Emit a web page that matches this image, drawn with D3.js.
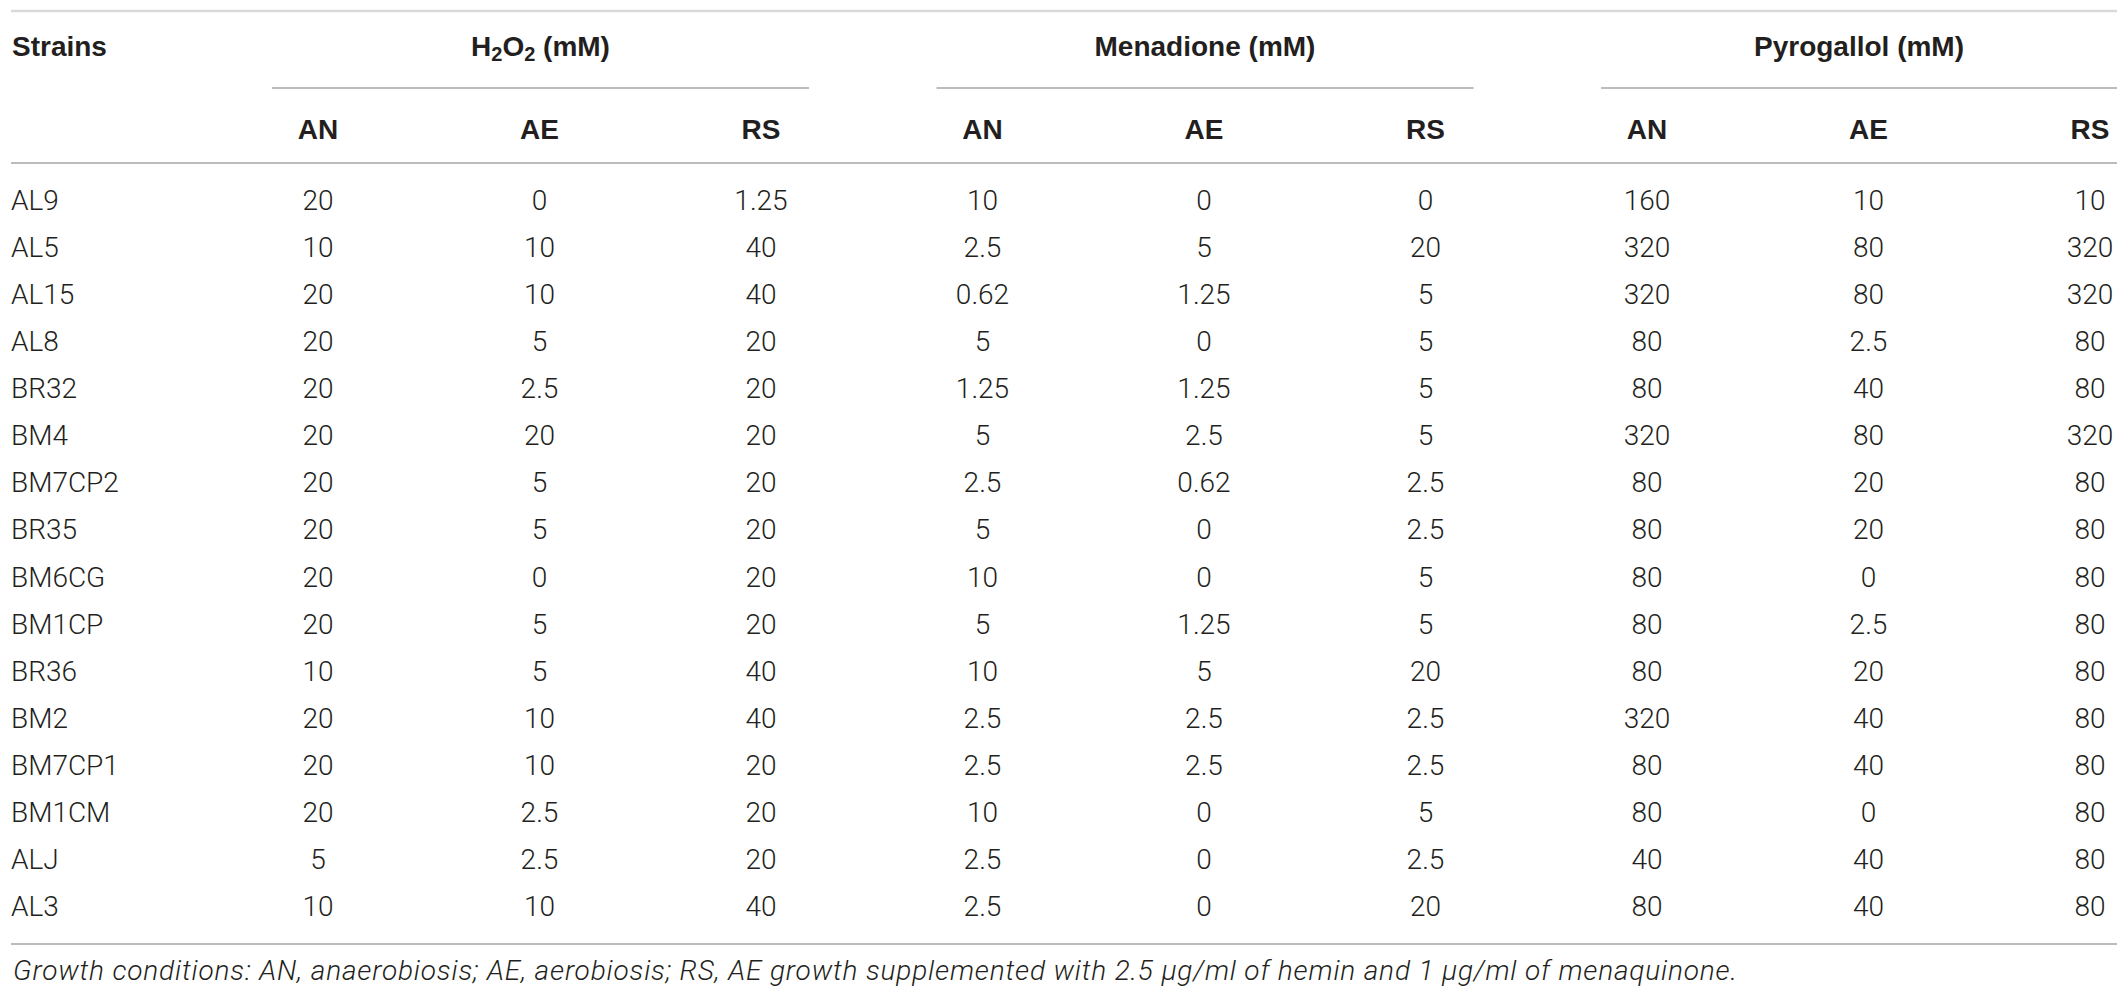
<!DOCTYPE html>
<html><head><meta charset="utf-8">
<script src="https://cdn.jsdelivr.net/npm/d3@7"></script>
<style>
html,body{margin:0;padding:0;background:#fff;}
svg{display:block;}
</style></head>
<body>
<svg id="chart" width="2128" height="1000"></svg>
<script>
// ---- data ----
const strains = ["AL9","AL5","AL15","AL8","BR32","BM4","BM7CP2","BR35","BM6CG","BM1CP","BR36","BM2","BM7CP1","BM1CM","ALJ","AL3"];
const groups = ["H2O2","Menadione","Pyrogallol"];
const conditions = ["AN","AE","RS"];
const h2o2AN = ["20","10","20","20","20","20","20","20","20","20","10","20","20","20","5","10"];
const h2o2AE = ["0","10","10","5","2.5","20","5","5","0","5","5","10","10","2.5","2.5","10"];
const h2o2RS = ["1.25","40","40","20","20","20","20","20","20","20","40","40","20","20","20","40"];
const menAN = ["10","2.5","0.62","5","1.25","5","2.5","5","10","5","10","2.5","2.5","10","2.5","2.5"];
const menAE = ["0","5","1.25","0","1.25","2.5","0.62","0","0","1.25","5","2.5","2.5","0","0","0"];
const menRS = ["0","20","5","5","5","5","2.5","2.5","5","5","20","2.5","2.5","5","2.5","20"];
const pyrAN = ["160","320","320","80","80","320","80","80","80","80","80","320","80","80","40","80"];
const pyrAE = ["10","80","80","2.5","40","80","20","20","0","2.5","20","40","40","0","40","40"];
const pyrRS = ["10","320","320","80","80","320","80","80","80","80","80","80","80","80","80","80"];
const footnote = "Growth conditions: AN, anaerobiosis; AE, aerobiosis; RS, AE growth supplemented with 2.5 \u03bcg/ml of hemin and 1 \u03bcg/ml of menaquinone.";

const columns = [
  {group:"H2O2", cond:"AN", vals:h2o2AN},{group:"H2O2", cond:"AE", vals:h2o2AE},{group:"H2O2", cond:"RS", vals:h2o2RS},
  {group:"Menadione", cond:"AN", vals:menAN},{group:"Menadione", cond:"AE", vals:menAE},{group:"Menadione", cond:"RS", vals:menRS},
  {group:"Pyrogallol", cond:"AN", vals:pyrAN},{group:"Pyrogallol", cond:"AE", vals:pyrAE},{group:"Pyrogallol", cond:"RS", vals:pyrRS}
];
columns.forEach((c,i)=>c.key=i);

// ---- layout ----
const svg = d3.select("#chart");
const left = 11, right = 2117;
const x = d3.scalePoint().domain(columns.map(c=>c.key)).range([318, 2090]);
const y = d3.scalePoint().domain(strains).range([200, 906]);
const textColor = "#231f20";
const bodyFont = "Roboto, 'Liberation Sans', sans-serif";
const boldFont = "'Liberation Sans', Arial, sans-serif";

// rules
svg.append("line").attr("x1",left).attr("x2",right).attr("y1",11).attr("y2",11)
  .attr("stroke","#d9d9d9").attr("stroke-width",2.5);
svg.append("line").attr("x1",left).attr("x2",right).attr("y1",163).attr("y2",163)
  .attr("stroke","#a6a6a6").attr("stroke-width",1.5);
svg.append("line").attr("x1",left).attr("x2",right).attr("y1",944).attr("y2",944)
  .attr("stroke","#a6a6a6").attr("stroke-width",1.5);

// group headers
const gInfo = groups.map(g=>{
  const cs = columns.filter(c=>c.group===g);
  const x0 = Math.max(x(cs[0].key)-46, 0), x1 = Math.min(x(cs[cs.length-1].key)+48, right);
  return {g, x0, x1};
});
svg.selectAll(".gline").data(gInfo).join("line")
  .attr("x1",d=>d.x0).attr("x2",d=>d.x1).attr("y1",88).attr("y2",88)
  .attr("stroke","#a6a6a6").attr("stroke-width",1.5);

const gt = svg.selectAll(".gtext").data(gInfo).join("text")
  .attr("x",d=>(d.x0+d.x1)/2).attr("y",56)
  .attr("text-anchor","middle").attr("font-family",boldFont).attr("font-weight","bold")
  .attr("font-size",28).attr("fill",textColor);
gt.each(function(d){
  const t = d3.select(this);
  if (d.g==="H2O2") {
    t.append("tspan").text("H");
    t.append("tspan").text("2").attr("font-size",20).attr("dy",5);
    t.append("tspan").text("O").attr("dy",-5);
    t.append("tspan").text("2").attr("font-size",20).attr("dy",5);
    t.append("tspan").text(" (mM)").attr("dy",-5);
  } else {
    t.text(d.g+" (mM)");
  }
});

svg.append("text").attr("x",left+1).attr("y",56).text("Strains")
  .attr("font-family",boldFont).attr("font-weight","bold").attr("font-size",28).attr("fill",textColor);

// sub headers
svg.selectAll(".sub").data(columns).join("text")
  .attr("x",d=>x(d.key)).attr("y",139).attr("text-anchor","middle")
  .attr("font-family",boldFont).attr("font-weight","bold").attr("font-size",28).attr("fill",textColor)
  .text(d=>d.cond);

// row labels
svg.selectAll(".rowlab").data(strains).join("text")
  .attr("x",left).attr("y",d=>y(d)+10)
  .attr("font-family",bodyFont).attr("font-weight",300).attr("font-size",28).attr("fill",textColor)
  .text(d=>d);

// cells
const cells = [];
columns.forEach(c=>c.vals.forEach((v,i)=>cells.push({col:c.key, strain:strains[i], v})));
svg.selectAll(".cell").data(cells).join("text")
  .attr("x",d=>x(d.col)).attr("y",d=>y(d.strain)+10).attr("text-anchor","middle")
  .attr("font-family",bodyFont).attr("font-weight",300).attr("font-size",28).attr("fill",textColor)
  .text(d=>d.v);

// footnote
svg.append("text").attr("x",left+2).attr("y",980).text(footnote)
  .attr("font-family",bodyFont).attr("font-weight",300).attr("font-style","italic")
  .attr("font-size",28).attr("fill",textColor)
  .attr("textLength",1724).attr("lengthAdjust","spacing");
</script>
</body></html>
